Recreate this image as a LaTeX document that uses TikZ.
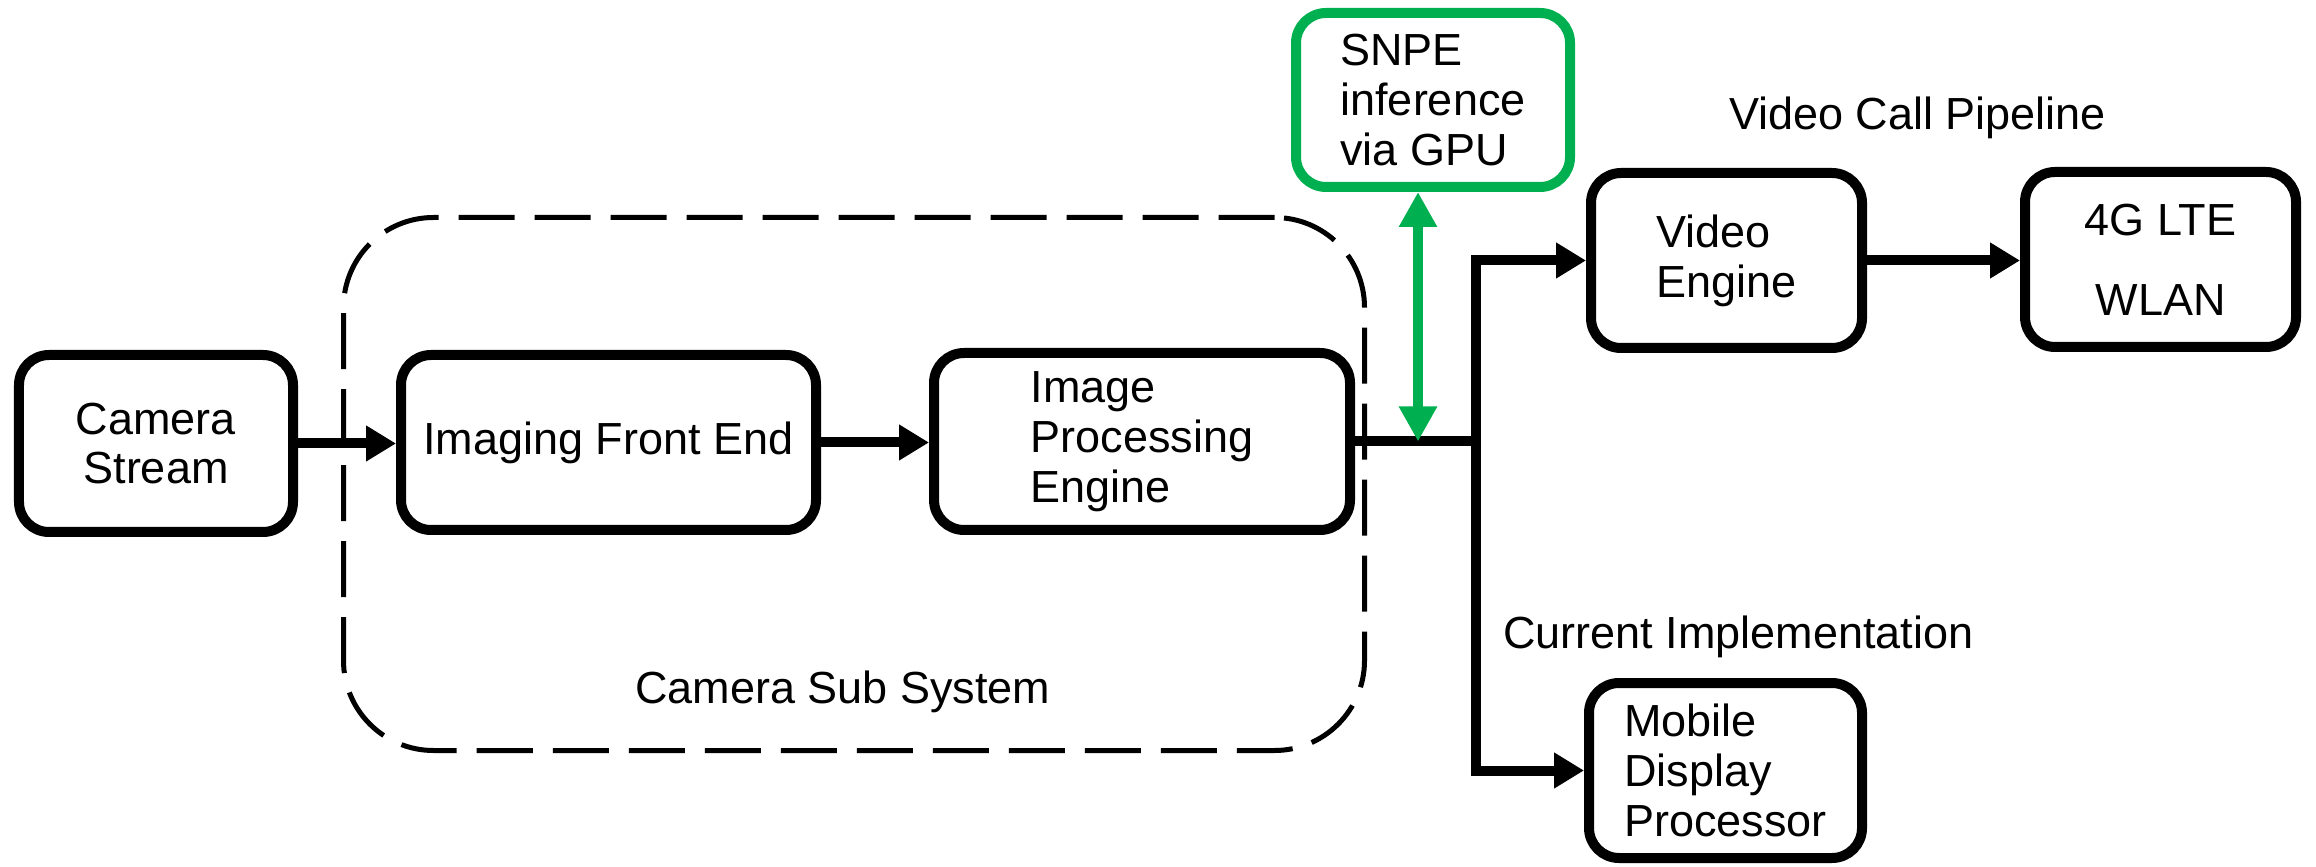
\documentclass[tikz,border=0pt]{standalone}
\usepackage{fontspec}
\setmainfont{Liberation Sans}
\usetikzlibrary{arrows.meta}
\definecolor{snpegreen}{HTML}{00B050}
\begin{document}
\begin{tikzpicture}[font=\fontsize{12.8}{14.2}\selectfont,
    box/.style={draw, line width=1mm, rounded corners=3mm, align=left, inner sep=0pt},
    flow/.style={line width=1mm, -{Triangle[length=3mm, width=3.4mm]}}]
    \useasboundingbox (0,0) rectangle (23.16,8.66);

    % Camera sub system frame
    \node[draw, line width=0.5mm, dash pattern=on 5.6mm off 2mm, rounded corners=9mm,
        minimum width=10.21cm, minimum height=5.33cm] (camsys) at (8.54,3.82) {};
    \node[anchor=base] (camsyslbl) at (8.43,1.63) {Camera Sub System};

    % Blocks
    \node[box, align=center, minimum width=2.74cm, minimum height=1.77cm] (cam) at (1.56,4.225) {Camera\\Stream};
    \node[box, minimum width=4.15cm, minimum height=1.75cm] (ife) at (6.085,4.235) {Imaging Front End};
    \node[box, minimum width=4.16cm, minimum height=1.77cm] (ipe) at (11.42,4.245) {Image\\Processing\\Engine};
    \node[box, draw=snpegreen, minimum width=2.74cm, minimum height=1.74cm] (snpe) at (14.33,7.66) {SNPE\\inference\\via GPU};
    \node[box, minimum width=2.71cm, minimum height=1.75cm] (vid) at (17.265,6.055) {Video\\Engine};
    \node[box, align=center, minimum width=2.71cm, minimum height=1.75cm] (lte) at (21.605,6.065) {4G LTE\\[0.3cm]WLAN};
    \node[box, minimum width=2.73cm, minimum height=1.75cm] (mdp) at (17.255,0.955) {Mobile\\Display\\Processor};

    % Labels for the two outputs
    \node[anchor=base] (pipelbl) at (19.175,7.36) {Video Call Pipeline};
    \node[anchor=base] (currlbl) at (17.385,2.18) {Current Implementation};

    % Branch points
    \coordinate (junc) at (14.76,4.245);
    \coordinate (gpu) at (14.18,4.245);

    % Edges
    \draw[flow] (cam.east) -- (cam.east -| ife.west);
    \draw[flow] (ife.east) -- (ife.east -| ipe.west);
    \draw[line width=1mm, line cap=round] (junc) -- (ipe.east);
    \draw[flow] (junc) |- (vid);
    \draw[flow] (junc) |- (mdp);
    \draw[flow] (vid.east) -- (vid.east -| lte.west);
    \draw[line width=1mm, snpegreen, {Triangle[length=3.5mm, width=3.6mm]}-{Triangle[length=3.5mm, width=3.6mm]}]
        (snpe.south -| gpu) -- (gpu);
\end{tikzpicture}
\end{document}
